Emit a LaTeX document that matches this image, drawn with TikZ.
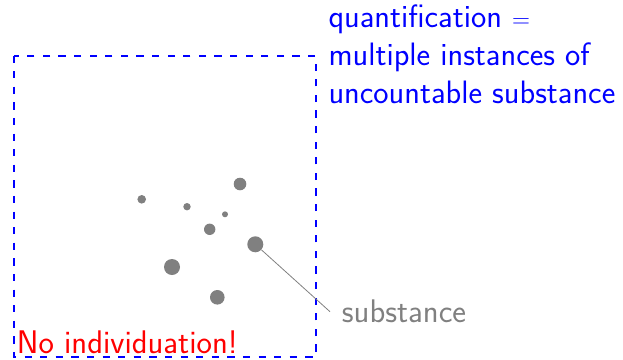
\documentclass[tikz,border=0pt]{standalone}
\definecolor{dotgray}{RGB}{128,128,128}
\tikzset{
  dot/.style={circle, fill=dotgray, draw=none, inner sep=0pt, minimum size=#1},
  bluetxt/.style={text=blue, font=\sffamily\fontsize{32.4}{38}\selectfont, anchor=base west, inner sep=0pt},
  graytxt/.style={text=dotgray, font=\sffamily\fontsize{32.7}{38}\selectfont, anchor=base west, inner sep=0pt},
  redtxt/.style={text=red, font=\sffamily\fontsize{32.7}{38}\selectfont, anchor=base west, inner sep=0pt},
  frame/.style={draw=blue, line width=2pt, dash pattern=on 7.3pt off 8.3pt},
}
\begin{document}
\begin{tikzpicture}[x=1pt,y=-1pt]
\useasboundingbox (0,0) rectangle (623,359);
\draw[frame] (14,55.5) rectangle (315.5,357);
\node[dot=8.6pt] (d1) at (141.7,199.3) {};
\node[dot=7.4pt] (d2) at (187,206.7) {};
\node[dot=12.6pt] (d3) at (240,184) {};
\node[dot=6pt] (d4) at (225,214.3) {};
\node[dot=11.4pt] (d5) at (209.7,229.3) {};
\node[dot=16pt] (d6) at (255.3,244.3) {};
\node[dot=16pt] (d7) at (172,267) {};
\node[dot=14.6pt] (d8) at (217.3,297.3) {};
\node[bluetxt] (q1) at (328.3,27) {quantification \(=\)};
\node[bluetxt] (q2) at (328.3,65.5) {multiple instances of};
\node[bluetxt] (q3) at (328.3,103.3) {uncountable substance};
\node[graytxt] (sub) at (341.7,322.7) {substance};
\coordinate (lend) at (330,311.7);
\draw[dotgray, line width=0.8pt] (d6) -- (lend);
\node[redtxt] (noind) at (16.7,353.3) {No individuation!};
\end{tikzpicture}
\end{document}
